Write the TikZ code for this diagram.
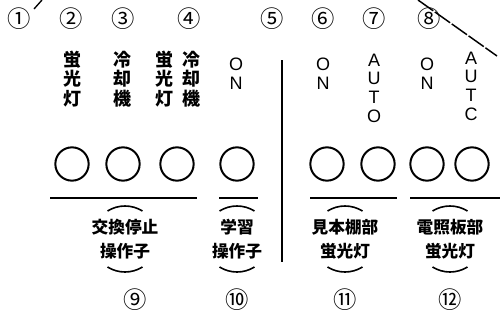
\documentclass[tikz,border=0pt]{standalone}
\usepackage{fontspec}
\setmainfont{Noto Sans CJK JP}
\newfontfamily\latinf{Liberation Sans}
\begin{document}
\begin{tikzpicture}[x=0.75pt,y=-0.75pt,
  num/.style={inner sep=0pt,font=\fontsize{17.5}{17.5}\selectfont},
  vlab/.style={inner sep=0pt,align=center,font=\fontsize{13.5}{14.5}\selectfont\bfseries},
  llab/.style={inner sep=0pt,align=center,font=\fontsize{13.5}{14}\selectfont\latinf},
  lamp/.style={circle,draw,line width=1.5pt,minimum size=25pt,inner sep=0pt},
  blab/.style={inner sep=0pt,align=center,font=\fontsize{12.5}{18}\selectfont\bfseries},
  rule/.style={line width=1.3pt},
  ring/.style={line width=1.2pt}]
\useasboundingbox (0,0) rectangle (500,325);
% top numbers
\node[num] (n1) at (19,19) {①};
\node[num] (n2) at (71,19) {②};
\node[num] (n3) at (123,19) {③};
\node[num] (n4) at (189,19) {④};
\node[num] (n5) at (272,19) {⑤};
\node[num] (n6) at (323,19) {⑥};
\node[num] (n7) at (374,19) {⑦};
\node[num] (n8) at (429,19) {⑧};
% outline strokes
\coordinate (o1) at (34,9);
\coordinate (o2) at (42,0);
\draw[line width=1pt] (o1) -- (o2);
\coordinate (o3) at (418,0);
\coordinate (o4) at (497,56);
\draw[line width=1.1pt,dash pattern=on 14pt off 1.5pt] (o3) -- (o4);
% vertical labels
\node[vlab] (t2) at (72,79) {蛍\\光\\灯};
\node[vlab] (t3) at (122,79) {冷\\却\\機};
\node[vlab] (t4a) at (164,79) {蛍\\光\\灯};
\node[vlab] (t4b) at (191,79) {冷\\却\\機};
\node[llab] (t5) at (236,74) {O\\N};
\node[llab] (t6) at (323,74) {O\\N};
\node[llab] (t7) at (374,88) {A\\U\\T\\O};
\node[llab] (t8a) at (427,74) {O\\N};
\node[llab] (t8b) at (471,86) {A\\U\\T\\C};
% lamps
\node[lamp] (l1) at (72,164) {};
\node[lamp] (l2) at (123,164) {};
\node[lamp] (l3) at (177,164) {};
\node[lamp] (l4) at (237,164) {};
\node[lamp] (l5) at (327,164) {};
\node[lamp] (l6) at (378,164) {};
\node[lamp] (l7) at (427,164) {};
\node[lamp] (l8) at (472,164) {};
% separator
\coordinate (s1) at (282,60);
\coordinate (s2) at (282,262);
\draw[line width=1.2pt] (s1) -- (s2);
% rules under lamps
\coordinate (r1a) at (50,198);  \coordinate (r1b) at (197,198);
\coordinate (r2a) at (219,198); \coordinate (r2b) at (258,198);
\coordinate (r3a) at (310,198); \coordinate (r3b) at (397,198);
\coordinate (r4a) at (410,198); \coordinate (r4b) at (500,198);
\draw[rule] (r1a) -- (r1b);
\draw[rule] (r2a) -- (r2b);
\draw[rule] (r3a) -- (r3b);
\draw[rule] (r4a) -- (r4b);
% bottom labels
\node[blab] (b9) at (125,239) {交換停止\\操作子};
\node[blab] (b10) at (237,239) {学習\\操作子};
\node[blab] (b11) at (345,239) {見本棚部\\蛍光灯};
\node[blab] (b12) at (450,239) {電照板部\\蛍光灯};
\foreach \c in {b9,b10,b11,b12}{
  \draw[ring] (\c) ++(238:33) arc (238:302:33);
  \draw[ring] (\c) ++(58:33) arc (58:122:33);
}
% bottom numbers
\node[num] (n9) at (135,300) {⑨};
\node[num] (n10) at (237,300) {⑩};
\node[num] (n11) at (345,300) {⑪};
\node[num] (n12) at (450,300) {⑫};
\end{tikzpicture}
\end{document}
